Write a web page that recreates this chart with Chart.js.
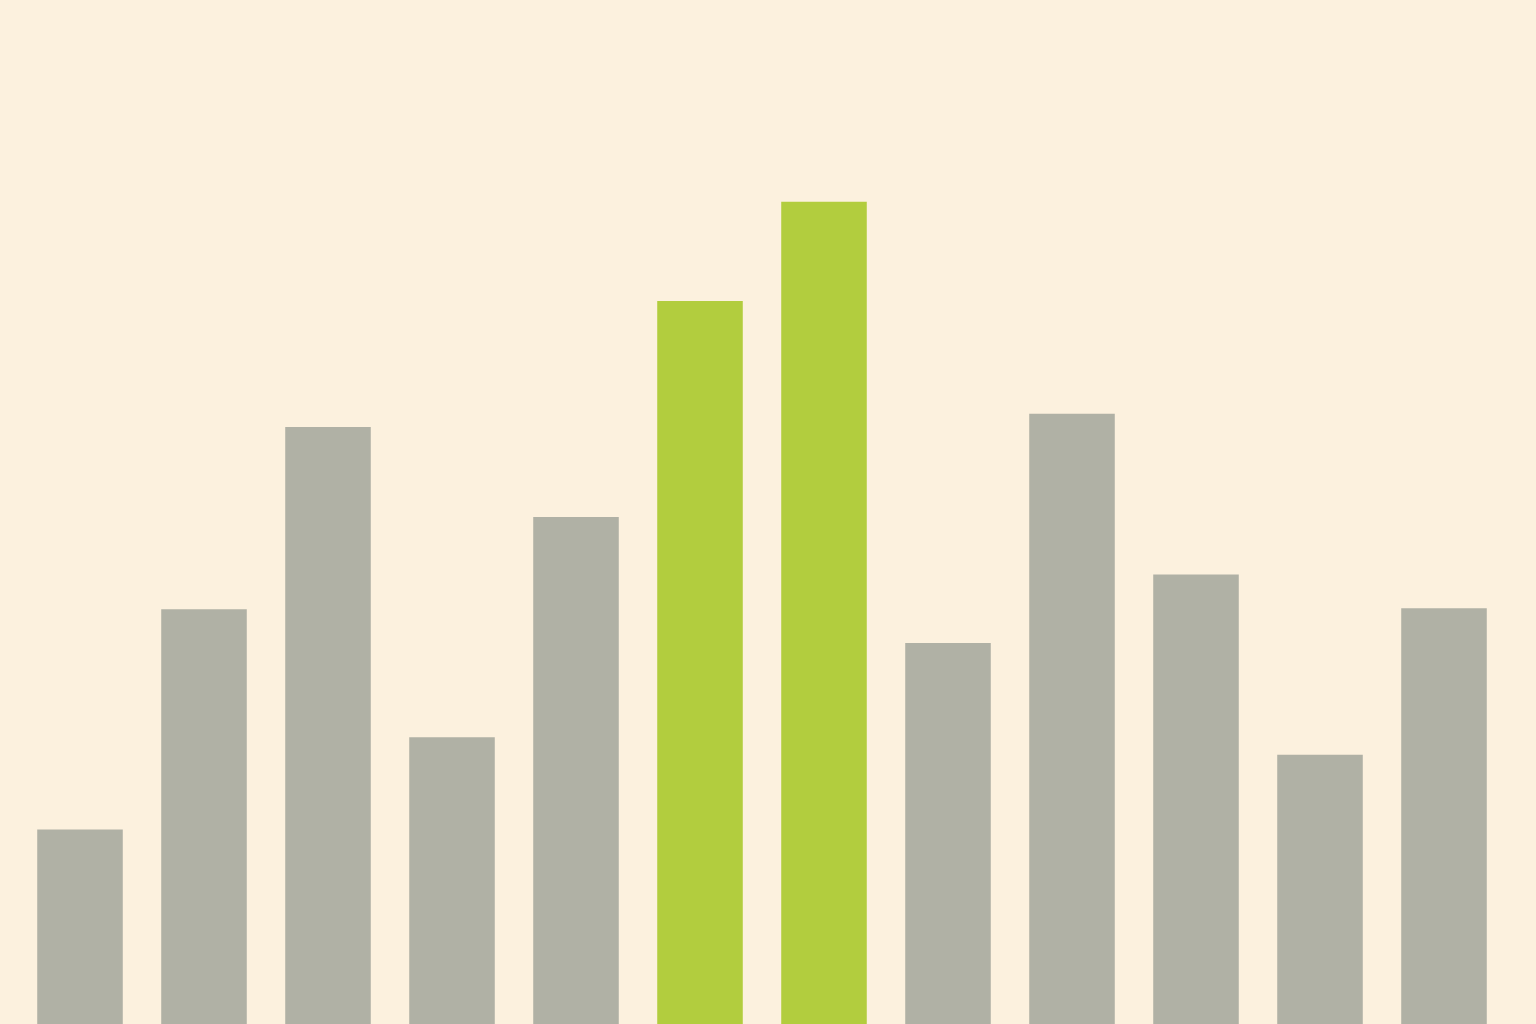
<!DOCTYPE html>
<html>
<head>
<meta charset="utf-8">
<script src="https://cdn.jsdelivr.net/npm/chart.js@4"></script>
<style>
html,body{margin:0;padding:0;background:#FCF1DE;}
#wrap{width:1536px;height:1024px;position:relative;}
</style>
</head>
<body>
<div id="wrap"><canvas id="c"></canvas></div>
<script>
const categories = ["1","2","3","4","5","6","7","8","9","10","11","12"];
const values = [19.0, 40.5, 58.3, 28.0, 49.5, 70.6, 80.3, 37.2, 59.6, 43.9, 26.3, 40.6];
const highlighted = [false,false,false,false,false,true,true,false,false,false,false,false];
const grayColor = "#B0B1A5";
const greenColor = "#B2CD3E";

new Chart(document.getElementById("c"), {
  type: "bar",
  data: {
    labels: categories,
    datasets: [{
      data: values,
      backgroundColor: highlighted.map(h => h ? greenColor : grayColor),
      borderWidth: 0,
      barPercentage: 0.69,
      categoryPercentage: 1.0
    }]
  },
  options: {
    responsive: true,
    maintainAspectRatio: false,
    animation: false,
    layout: { padding: { left: 18, right: 30, top: 0, bottom: 0 } },
    plugins: { legend: { display: false }, tooltip: { enabled: false } },
    scales: {
      x: { display: false, offset: true },
      y: { display: false, min: 0, max: 100 }
    }
  }
});
</script>
</body>
</html>
